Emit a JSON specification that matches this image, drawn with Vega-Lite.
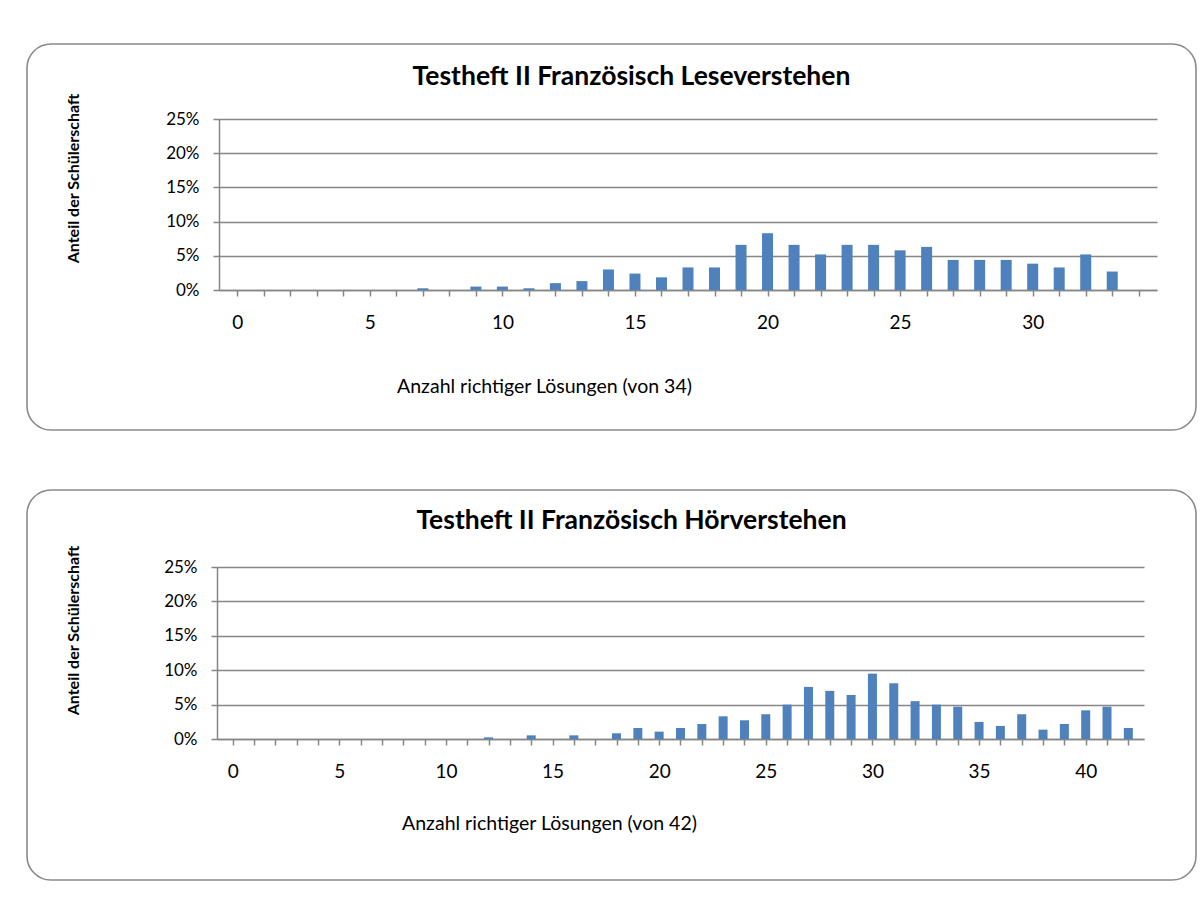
{
  "$schema": "https://vega.github.io/schema/vega-lite/v6.json",
  "padding": {"left": 26, "top": 43, "right": 6, "bottom": 30},
  "background": "white",
  "spacing": 58,
  "config": {
    "view": {"stroke": "#8a8a8a", "strokeWidth": 1.6, "cornerRadius": 24},
    "font": "Lato",
    "title": {"font": "Lato", "fontWeight": "bold", "fontSize": 26.5, "color": "black", "anchor": "middle", "dx": 20},
    "axis": {
      "domainColor": "#868686", "domainWidth": 1.5, "tickColor": "#868686", "tickWidth": 1.5, "tickSize": 6,
      "gridColor": "#868686", "gridWidth": 1.4, "labelColor": "black", "titleColor": "black",
      "labelFont": "Lato", "titleFont": "Lato"
    }
  },
  "datasets": {
    "lese": [
      {"richtig": 7, "anteil": 0.0025}, {"richtig": 9, "anteil": 0.005}, {"richtig": 10, "anteil": 0.005},
      {"richtig": 11, "anteil": 0.0025}, {"richtig": 12, "anteil": 0.010}, {"richtig": 13, "anteil": 0.013},
      {"richtig": 14, "anteil": 0.030}, {"richtig": 15, "anteil": 0.024}, {"richtig": 16, "anteil": 0.0185},
      {"richtig": 17, "anteil": 0.033}, {"richtig": 18, "anteil": 0.033}, {"richtig": 19, "anteil": 0.066},
      {"richtig": 20, "anteil": 0.083}, {"richtig": 21, "anteil": 0.066}, {"richtig": 22, "anteil": 0.052},
      {"richtig": 23, "anteil": 0.066}, {"richtig": 24, "anteil": 0.066}, {"richtig": 25, "anteil": 0.058},
      {"richtig": 26, "anteil": 0.063}, {"richtig": 27, "anteil": 0.044}, {"richtig": 28, "anteil": 0.044},
      {"richtig": 29, "anteil": 0.044}, {"richtig": 30, "anteil": 0.0385}, {"richtig": 31, "anteil": 0.033},
      {"richtig": 32, "anteil": 0.052}, {"richtig": 33, "anteil": 0.027}
    ],
    "hoer": [
      {"richtig": 12, "anteil": 0.0024}, {"richtig": 14, "anteil": 0.0053}, {"richtig": 16, "anteil": 0.0053},
      {"richtig": 18, "anteil": 0.0083}, {"richtig": 19, "anteil": 0.016}, {"richtig": 20, "anteil": 0.0107},
      {"richtig": 21, "anteil": 0.016}, {"richtig": 22, "anteil": 0.0218}, {"richtig": 23, "anteil": 0.033},
      {"richtig": 24, "anteil": 0.0272}, {"richtig": 25, "anteil": 0.036}, {"richtig": 26, "anteil": 0.050},
      {"richtig": 27, "anteil": 0.0757}, {"richtig": 28, "anteil": 0.070}, {"richtig": 29, "anteil": 0.064},
      {"richtig": 30, "anteil": 0.095}, {"richtig": 31, "anteil": 0.081}, {"richtig": 32, "anteil": 0.055},
      {"richtig": 33, "anteil": 0.050}, {"richtig": 34, "anteil": 0.047}, {"richtig": 35, "anteil": 0.0248},
      {"richtig": 36, "anteil": 0.019}, {"richtig": 37, "anteil": 0.036}, {"richtig": 38, "anteil": 0.0136},
      {"richtig": 39, "anteil": 0.0218}, {"richtig": 40, "anteil": 0.0417}, {"richtig": 41, "anteil": 0.047},
      {"richtig": 42, "anteil": 0.016}
    ]
  },
  "vconcat": [
    {
      "width": 1169,
      "height": 386,
      "title": {"text": "Testheft II Französisch Leseverstehen", "offset": -46},
      "data": {"name": "lese"},
      "mark": {"type": "bar", "orient": "vertical", "size": 11, "color": "#4F81BD"},
      "encoding": {
        "x": {
          "field": "richtig", "type": "quantitative",
          "scale": {"domain": [-0.5, 34.5], "range": [192, 1130], "nice": false, "zero": false},
          "axis": {
            "values": [0,1,2,3,4,5,6,7,8,9,10,11,12,13,14,15,16,17,18,19,20,21,22,23,24,25,26,27,28,29,30,31,32,33,34],
            "labelExpr": "datum.value % 5 === 0 ? datum.label : ''",
            "grid": false, "offset": -140, "labelFontSize": 19, "labelPadding": 17, "labelFlush": false,
            "title": "Anzahl richtiger Lösungen (von 34)", "titleFontSize": 19.5, "titleFontWeight": "normal",
            "titleX": 517, "titleY": 96, "titleBaseline": "middle", "titleAnchor": "middle"
          }
        },
        "y": {
          "field": "anteil", "type": "quantitative",
          "scale": {"domain": [0, 0.25], "range": [246, 75], "nice": false},
          "axis": {
            "values": [0, 0.05, 0.1, 0.15, 0.2, 0.25], "format": ".0%",
            "grid": true, "offset": -192, "labelFontSize": 17, "labelPadding": 14,
            "title": "Anteil der Schülerschaft", "titleFontSize": 16, "titleFontWeight": "bold",
            "titleAngle": 270, "titleX": -146, "titleY": 134, "titleBaseline": "middle", "titleAlign": "center"
          }
        }
      }
    },
    {
      "width": 1169,
      "height": 390,
      "title": {"text": "Testheft II Französisch Hörverstehen", "offset": -44},
      "data": {"name": "hoer"},
      "mark": {"type": "bar", "orient": "vertical", "size": 9, "color": "#4F81BD"},
      "encoding": {
        "x": {
          "field": "richtig", "type": "quantitative",
          "scale": {"domain": [-0.5, 42.5], "range": [190, 1117], "nice": false, "zero": false},
          "axis": {
            "values": [0,1,2,3,4,5,6,7,8,9,10,11,12,13,14,15,16,17,18,19,20,21,22,23,24,25,26,27,28,29,30,31,32,33,34,35,36,37,38,39,40,41,42],
            "labelExpr": "datum.value % 5 === 0 ? datum.label : ''",
            "grid": false, "offset": -141, "labelFontSize": 19, "labelPadding": 17, "labelFlush": false,
            "title": "Anzahl richtiger Lösungen (von  42)", "titleFontSize": 19.5, "titleFontWeight": "normal",
            "titleX": 522, "titleY": 84, "titleBaseline": "middle", "titleAnchor": "middle"
          }
        },
        "y": {
          "field": "anteil", "type": "quantitative",
          "scale": {"domain": [0, 0.25], "range": [249, 77], "nice": false},
          "axis": {
            "values": [0, 0.05, 0.1, 0.15, 0.2, 0.25], "format": ".0%",
            "grid": true, "offset": -190, "labelFontSize": 17, "labelPadding": 14,
            "title": "Anteil der Schülerschaft", "titleFontSize": 16, "titleFontWeight": "bold",
            "titleAngle": 270, "titleX": -144, "titleY": 140, "titleBaseline": "middle", "titleAlign": "center"
          }
        }
      }
    }
  ]
}
